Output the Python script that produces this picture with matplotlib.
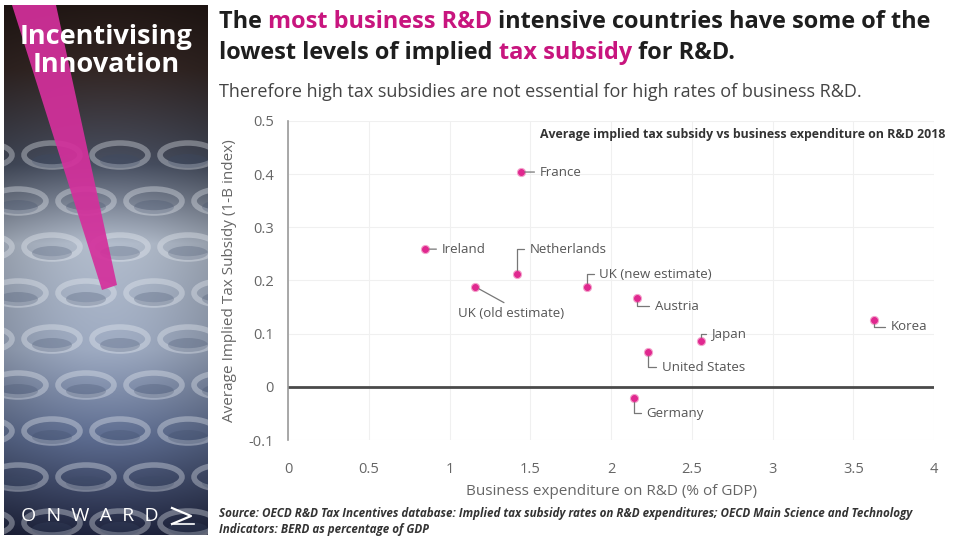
import matplotlib

matplotlib.use("Agg")

import matplotlib.pyplot as plt
import numpy as np
from matplotlib.patches import Ellipse, Polygon

plt.rcParams["font.family"] = ["Open Sans", "DejaVu Sans"]

# ---- data ----
countries = [
    "France", "Ireland", "Netherlands", "UK (old estimate)", "UK (new estimate)",
    "Austria", "Japan", "Korea", "United States", "Germany",
]
berd_pct_gdp = [1.44, 0.85, 1.42, 1.16, 1.85, 2.16, 2.56, 3.63, 2.23, 2.14]
tax_subsidy = [0.404, 0.259, 0.212, 0.188, 0.188, 0.167, 0.086, 0.126, 0.066, -0.021]
x_ticks = [0, 0.5, 1, 1.5, 2, 2.5, 3, 3.5, 4]
y_ticks = [-0.1, 0, 0.1, 0.2, 0.3, 0.4, 0.5]
y_tick_labels = ["-0.1", "0", "0.1", "0.2", "0.3", "0.4", "0.5"]

# label placement (offset in points, alignment, leader style)
ELBOW_UP = "angle,angleA=0,angleB=90,rad=0"
ELBOW_DOWN = "angle,angleA=0,angleB=-90,rad=0"
label_style = {
    "France": ((14, 0), "left", "center", "arc3"),
    "Ireland": ((12, 0), "left", "center", "arc3"),
    "Netherlands": ((9, 18), "left", "center", ELBOW_UP),
    "UK (old estimate)": ((26, -19), "center", "center", "arc3"),
    "UK (new estimate)": ((9, 9), "left", "center", ELBOW_UP),
    "Austria": ((13, -6), "left", "center", ELBOW_DOWN),
    "Japan": ((7, 5), "left", "center", ELBOW_UP),
    "Korea": ((12, -5), "left", "center", ELBOW_DOWN),
    "United States": ((10, -11), "left", "center", ELBOW_DOWN),
    "Germany": ((9, -11), "left", "center", ELBOW_DOWN),
}

PINK = "#e0288f"
MAGENTA_TEXT = "#c8157e"
DARK = "#1e1e1e"
GREY = "#555555"

fig = plt.figure(figsize=(9.6, 5.4), dpi=100)
fig.patch.set_facecolor("white")

# ---- left photo-like panel ----
ax_img = fig.add_axes([4 / 960, 5 / 540, 204 / 960, 530 / 540])
H, W = 530, 204
stops = np.array([0.0, 0.12, 0.3, 0.45, 0.65, 0.82, 1.0])
cols = np.array([
    [0.13, 0.09, 0.08],
    [0.20, 0.15, 0.14],
    [0.28, 0.31, 0.38],
    [0.70, 0.74, 0.80],
    [0.62, 0.67, 0.76],
    [0.36, 0.42, 0.56],
    [0.12, 0.14, 0.24],
])
t = np.linspace(0, 1, H)
img = np.stack([np.interp(t, stops, cols[:, c]) for c in range(3)], axis=1)
img = np.repeat(img[:, None, :], W, axis=1)
shade = 0.85 + 0.15 * np.sin(np.linspace(0, np.pi, W))[None, :, None]
img = np.clip(img * shade, 0, 1)
ax_img.imshow(img, extent=(0, W, H, 0), aspect="auto")
for row, yc in enumerate(range(150, 520, 46)):
    for xc in range(-20 + (row % 2) * 34, 230, 68):
        ax_img.add_patch(Ellipse((xc, yc), 56, 24, fill=False, ec="#eef2f7",
                                 lw=4, alpha=0.35))
        ax_img.add_patch(Ellipse((xc, yc + 6), 40, 14, fc="#3c4a66", ec="none",
                                 alpha=0.25))
ax_img.add_patch(Polygon([(8, 0), (52, 0), (113, 280), (98, 285)], closed=True,
                         fc="#d4309c", ec="none", alpha=0.92))
ax_img.set_xlim(0, W)
ax_img.set_ylim(H, 0)
ax_img.axis("off")
ax_img.text(W / 2, 46, "Incentivising\nInnovation", color="white", fontsize=19.5,
            fontweight="bold", ha="center", va="center", linespacing=1.08)
ax_img.text(86, 511, "O  N  W  A  R  D", color="white", fontsize=14, ha="center",
            va="center")
ax_img.plot([168, 187, 168], [503, 511, 519], color="white", lw=1.6)
ax_img.plot([170, 190], [519, 519], color="white", lw=1.2)

# ---- scatter chart ----
ax = fig.add_axes([288 / 960, 100 / 540, 646 / 960, 319 / 540])
ax.set_xlim(0, 4)
ax.set_ylim(-0.1, 0.5)
ax.set_xticks(x_ticks)
ax.set_xticklabels([f"{v:g}" for v in x_ticks])
ax.set_yticks(y_ticks)
ax.set_yticklabels(y_tick_labels)
ax.grid(True, color="#f0f0f0", lw=0.8)
ax.set_axisbelow(True)
for side in ("top", "right", "bottom"):
    ax.spines[side].set_visible(False)
ax.spines["left"].set_color("#9a9a9a")
ax.spines["left"].set_linewidth(1.2)
ax.axhline(0, color="#4a4a4a", lw=2)
ax.tick_params(length=0, colors="#666666", labelsize=10.5)
ax.tick_params(axis="x", pad=16)
ax.tick_params(axis="y", pad=10)

ax.scatter(berd_pct_gdp, tax_subsidy, s=34, color=PINK, edgecolor="#f4a3cc",
           linewidth=0.8, zorder=3)

for name, xv, yv in zip(countries, berd_pct_gdp, tax_subsidy):
    (dx, dy), ha, va, conn = label_style[name]
    relpos = (0.0, 0.5) if ha == "left" else (0.5, 1.0)
    ax.annotate(
        name, xy=(xv, yv), xytext=(dx, dy), textcoords="offset points",
        ha=ha, va=va, fontsize=9.5, color=GREY,
        arrowprops=dict(arrowstyle="-", color="#777777", lw=0.9,
                        connectionstyle=conn, shrinkA=2, shrinkB=3,
                        relpos=relpos),
    )

ax.set_xlabel("Business expenditure on R&D (% of GDP)", fontsize=11,
              color="#666666", labelpad=5)
ax.set_ylabel("Average Implied Tax Subsidy (1-B index)", fontsize=11,
              color="#666666", labelpad=8)
ax.text(1.017, 0.958, "Average implied tax subsidy vs business expenditure on R&D 2018",
        transform=ax.transAxes, ha="right", va="center", fontsize=8.9,
        fontweight="bold", color="#333333")


# ---- headline with coloured fragments ----
def rich_line(parts, x, y, size):
    renderer = fig.canvas.get_renderer()
    for text, color in parts:
        t = fig.text(x, y, text, color=color, fontsize=size, fontweight="bold",
                     ha="left", va="center")
        bb = t.get_window_extent(renderer=renderer)
        x += bb.width / fig.bbox.width


rich_line([("The ", DARK), ("most business R&D", MAGENTA_TEXT),
           (" intensive countries have some of the", DARK)],
          219 / 960, 1 - 22 / 540, 16.9)
rich_line([("lowest levels of implied ", DARK), ("tax subsidy", MAGENTA_TEXT),
           (" for R&D.", DARK)],
          219 / 960, 1 - 53 / 540, 16.9)
fig.text(219 / 960, 1 - 92 / 540,
         "Therefore high tax subsidies are not essential for high rates of business R&D.",
         fontsize=13, color="#444444", ha="left", va="center")

fig.text(219 / 960, 1 - 513 / 540,
         "Source: OECD R&D Tax Incentives database: Implied tax subsidy rates on R&D "
         "expenditures; OECD Main Science and Technology",
         fontsize=8.4, style="italic", fontweight="bold", color="#333333",
         ha="left", va="center")
fig.text(219 / 960, 1 - 529 / 540, "Indicators: BERD as percentage of GDP",
         fontsize=8.4, style="italic", fontweight="bold", color="#333333",
         ha="left", va="center")

fig.savefig("out.png", dpi=100)
